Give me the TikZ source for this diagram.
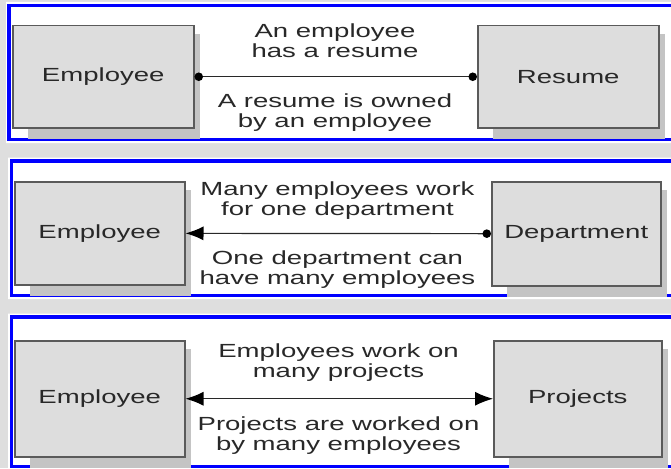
\documentclass[tikz,border=0pt]{standalone}
\usepackage{fontspec}
\setmainfont{Liberation Sans}
\newfontfamily\diafont[FakeStretch=1.45]{Liberation Sans}
\usetikzlibrary{arrows.meta,calc}
\definecolor{pagegray}{RGB}{222,222,222}
\definecolor{boxgray}{RGB}{221,221,221}
\definecolor{shadegray}{RGB}{196,196,196}
\definecolor{edgegray}{RGB}{90,90,90}
\definecolor{inkgray}{RGB}{40,40,40}
\definecolor{frameblue}{RGB}{0,0,255}
\pgfdeclarelayer{bg}
\pgfdeclarelayer{shade}
\pgfsetlayers{bg,shade,main}
\tikzset{
  entity/.style={draw=edgegray,line width=1.5pt,fill=boxgray,anchor=north west,inner sep=0pt,
    font=\diafont\fontsize{19}{20}\selectfont,text=inkgray},
  lbl/.style={align=center,inner sep=0pt,anchor=base,font=\diafont\fontsize{19}{20}\selectfont,text=inkgray},
  rel/.style={draw=inkgray,line width=1.2pt},
  dot/.tip={Circle[length=8.5pt,color=black]},
  head/.tip={Latex[length=18pt,width=14pt,color=black]},
  panel/.style={draw=frameblue,line width=3.5pt,fill=white}
}
\begin{document}
\begin{tikzpicture}[x=1pt,y=-1pt]
  \useasboundingbox (0,0) rectangle (671,468);
  \begin{pgfonlayer}{bg}
    \fill[pagegray] (0,0) rectangle (671,468);
    \fill[white] (6,2) rectangle (690,143) (8,157.5) rectangle (690,299) (8,313.5) rectangle (690,470);
    \draw[panel] (9,5.5) rectangle (690,139.5);
    \draw[panel] (11.5,161) rectangle (690,295.5);
    \draw[panel] (11.5,317) rectangle (690,466.5);
  \end{pgfonlayer}

  % has-a
  \node[entity,minimum width=181pt,minimum height=102pt] (emp1) at (12,25) {Employee};
  \node[entity,minimum width=181pt,minimum height=102pt] (res1) at (477,25) {Resume};
  \draw[rel,dot-dot] (emp1) -- (res1);
  \node[lbl] (has1) at (335,58) {An employee\\has a resume};
  \node[lbl] (own1) at (335,127) {A resume is owned\\by an employee};

  % many-to-one
  \node[entity,minimum width=170pt,minimum height=103pt] (emp2) at (14,181) {Employee};
  \node[entity,minimum width=169pt,minimum height=104pt] (dep2) at (491,181) {Department};
  \draw[rel,head-dot] (emp2) -- (dep2);
  \node[lbl] (work2) at (337.5,215) {Many employees work\\for one department};
  \node[lbl] (have2) at (337.5,284) {One department can\\have many employees};

  % many-to-many
  \node[entity,minimum width=170pt,minimum height=116pt] (emp3) at (14,340) {Employee};
  \node[entity,minimum width=168pt,minimum height=116pt] (prj3) at (493,340) {Projects};
  \draw[rel,head-head] (emp3) -- (prj3);
  \node[lbl] (on3) at (338.5,377) {Employees work on\\many projects};
  \node[lbl] (by3) at (338.5,450) {Projects are worked on\\by many employees};

  \begin{pgfonlayer}{shade}
    \foreach \b in {emp1,res1,emp2,dep2,emp3,prj3}
      \fill[shadegray] ([shift={(16,9)}]\b.north west) rectangle ([shift={(5,10)}]\b.south east);
  \end{pgfonlayer}
\end{tikzpicture}
\end{document}
